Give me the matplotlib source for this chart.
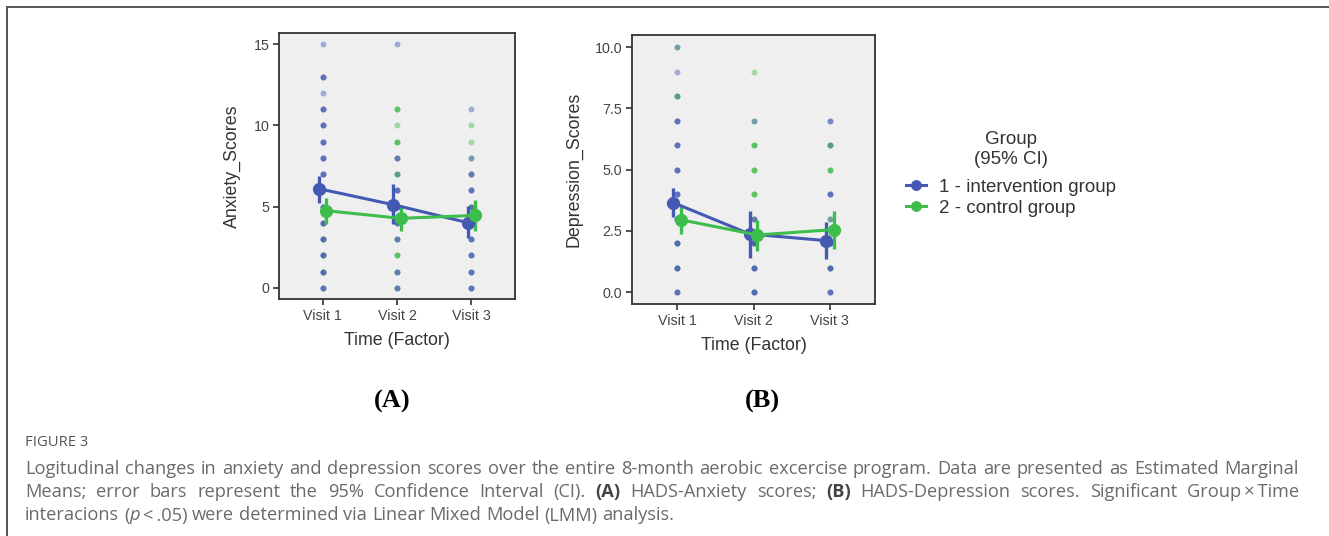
import re
import matplotlib
matplotlib.use('Agg')
import matplotlib.pyplot as plt
from matplotlib.lines import Line2D

W, H = 1329, 536

# ---- data ----
visits = ['Visit 1', 'Visit 2', 'Visit 3']
groups = ['1 - intervention group', '2 - control group']

# raw scores shown as dots, one list per visit
anx_int = [
    [0]*3 + [1]*3 + [2]*3 + [3]*3 + [4]*3 + [5]*3 + [6]*3 + [7]*3 + [8]*3 + [9]*3 + [10]*3 + [11]*3 + [12] + [13]*3 + [15],
    [0]*2 + [1]*2 + [3]*2 + [4]*2 + [5]*3 + [6]*3 + [7] + [8]*2 + [15],
    [0]*3 + [1]*3 + [2]*3 + [3]*3 + [4]*2 + [5]*2 + [6]*3 + [7]*2 + [8] + [11],
]
anx_ctl = [
    [1, 2, 3, 4, 5, 6],
    [0, 1, 2, 2, 2, 3, 4, 4, 5, 7, 7, 8, 9, 9, 9, 10, 11, 11, 11],
    [4, 4, 5, 5, 7, 8, 9, 10],
]
dep_int = [
    [0]*3 + [1]*3 + [2]*3 + [3]*3 + [4]*3 + [5]*3 + [6]*3 + [7]*3 + [8] + [9] + [10],
    [0]*3 + [1]*3 + [2]*3 + [3]*2 + [7],
    [0]*3 + [1]*3 + [2]*3 + [3] + [4]*3 + [6] + [7]*2,
]
dep_ctl = [
    [1, 2, 3, 3, 8, 8, 10],
    [0, 1, 2, 2, 3, 4, 4, 4, 5, 5, 5, 6, 6, 6, 7, 9],
    [1, 2, 2, 3, 5, 5, 5, 6, 6],
]

# estimated marginal means with 95% CI
anx_mean_int = [6.1, 5.12, 4.02]
anx_lo_int = [5.25, 3.95, 3.1]
anx_hi_int = [6.9, 6.4, 5.02]
anx_mean_ctl = [4.75, 4.28, 4.46]
anx_lo_ctl = [3.95, 3.5, 3.5]
anx_hi_ctl = [5.55, 5.1, 5.4]

dep_mean_int = [3.65, 2.37, 2.1]
dep_lo_int = [3.06, 1.4, 1.35]
dep_hi_int = [4.26, 3.3, 2.87]
dep_mean_ctl = [2.95, 2.33, 2.55]
dep_lo_ctl = [2.35, 1.68, 1.77]
dep_hi_ctl = [3.56, 2.96, 3.3]

anx_ticks = [0, 5, 10, 15]
dep_ticks = [0.0, 2.5, 5.0, 7.5, 10.0]

BLUE = '#4459b3'
GREEN = '#3dbd4c'
FONT = 'Liberation Sans'

plt.rcParams['font.family'] = [FONT, 'DejaVu Sans']

fig = plt.figure(figsize=(W / 100, H / 100), dpi=100)


def panel(rect, raw_int, raw_ctl, m_i, lo_i, hi_i, m_c, lo_c, hi_c,
          ylim, ticks, ticklabels, ylabel):
    ax = fig.add_axes(rect)
    ax.set_facecolor('#efefef')
    xs = [1, 2, 3]
    for x, vals in zip(xs, raw_ctl):
        ax.scatter([x] * len(vals), vals, s=18, color=GREEN, alpha=0.45,
                   linewidths=0, zorder=2)
    for x, vals in zip(xs, raw_int):
        ax.scatter([x] * len(vals), vals, s=18, color=BLUE, alpha=0.45,
                   linewidths=0, zorder=2)
    d = 0.05
    handles = []
    for off, m, lo, hi, c in [(-d, m_i, lo_i, hi_i, BLUE), (d, m_c, lo_c, hi_c, GREEN)]:
        px = [x + off for x in xs]
        yerr = [[a - b for a, b in zip(m, lo)], [b - a for a, b in zip(m, hi)]]
        ax.errorbar(px, m, yerr=yerr, fmt='none', ecolor=c, elinewidth=2.4,
                    capsize=0, zorder=3)
        h, = ax.plot(px, m, '-o', color=c, lw=2.2, ms=8.5, zorder=4)
        handles.append(h)
    ax.set_xlim(0.41, 3.59)
    ax.set_ylim(*ylim)
    ax.set_xticks(xs)
    ax.set_xticklabels(visits)
    ax.set_yticks(ticks)
    ax.set_yticklabels(ticklabels)
    ax.tick_params(length=4, width=1.2, color='#333333', labelsize=10.3,
                   labelcolor='#444444', pad=3)
    for s in ax.spines.values():
        s.set_color('#333333')
        s.set_linewidth(1.3)
    ax.set_xlabel('Time (Factor)', fontsize=12.8, color='#333333', labelpad=7)
    ax.set_ylabel(ylabel, fontsize=12.8, color='#333333', labelpad=9)
    return handles


hA = panel([279 / W, 1 - 299 / H, 236 / W, 266 / H], anx_int, anx_ctl,
           anx_mean_int, anx_lo_int, anx_hi_int, anx_mean_ctl, anx_lo_ctl, anx_hi_ctl,
           (-0.68, 15.68), anx_ticks, [str(t) for t in anx_ticks], 'Anxiety_Scores')
hB = panel([632 / W, 1 - 304 / H, 243 / W, 269 / H], dep_int, dep_ctl,
           dep_mean_int, dep_lo_int, dep_hi_int, dep_mean_ctl, dep_lo_ctl, dep_hi_ctl,
           (-0.49, 10.5), dep_ticks, ['%.1f' % t for t in dep_ticks], 'Depression_Scores')

leg = fig.legend(hA, groups, title='Group\n(95% CI)', loc='upper left',
                 bbox_to_anchor=(898 / W, 1 - 124 / H), frameon=False,
                 fontsize=13.5, title_fontsize=13.5, handlelength=1.1,
                 handletextpad=0.7, labelspacing=0.2, borderaxespad=0,
                 markerscale=0.8)
leg._legend_box.sep = 7.5
for t in leg.get_texts():
    t.set_color('#333333')
leg.get_title().set_color('#333333')
leg.get_title().set_multialignment('center')

# panel letters
fig.text(392 / W, 1 - 401 / H, '(A)', fontsize=19, fontweight='bold',
         family='Liberation Serif', ha='center', va='center')
fig.text(762 / W, 1 - 401 / H, '(B)', fontsize=19, fontweight='bold',
         family='Liberation Serif', ha='center', va='center')

# frame lines
fig.add_artist(Line2D([7.3 / W, 1], [1 - 7.3 / H, 1 - 7.3 / H], transform=fig.transFigure,
                      color='#555555', lw=1.4))
fig.add_artist(Line2D([7.3 / W, 7.3 / W], [0, 1 - 7.3 / H], transform=fig.transFigure,
                      color='#555555', lw=1.4))

# caption
CAP = 'Open Sans'
CAPC = '#6a6a6a'
X0, X1 = 25, 1299
fig.text(X0 / W, 1 - 446 / H, 'FIGURE 3', fontsize=10.6, family=CAP, color='#555555',
         va='baseline', ha='left')

lines = [
    'Logitudinal changes in anxiety and depression scores over the entire 8-month aerobic excercise program. Data are presented as Estimated Marginal',
    'Means; error bars represent the 95% Confidence Interval (CI). **(A)** HADS-Anxiety scores; **(B)** HADS-Depression scores. Significant Group\u2009\u00d7\u2009Time',
    'interacions (*p*\u2009<\u2009.05) were determined via Linear Mixed Model (LMM) analysis.',
]
baselines = [473.5, 497, 520.5]

renderer = fig.canvas.get_renderer()

# fit the caption size so the first line fills the column with tight spacing
probe = fig.text(0, 0, lines[0], fontsize=10, family=CAP)
natural = probe.get_window_extent(renderer).width
probe.remove()
CAPS = 10 * (X1 - X0) / natural * 0.985


def place(line, ybase, x0, x1, justify):
    words = line.split(' ')
    placed = []
    for w in words:
        pieces = [p for p in re.split(r'(\*\*.*?\*\*|\*.*?\*)', w) if p]
        objs = []
        for p in pieces:
            kw = dict(fontsize=CAPS, family=[CAP, 'DejaVu Sans'], color=CAPC,
                      va='baseline', ha='left')
            if p.startswith('**'):
                p = p[2:-2]
                kw['fontweight'] = 'bold'
                kw['color'] = '#444444'
            elif p.startswith('*'):
                p = p[1:-1]
                kw['fontstyle'] = 'italic'
            t = fig.text(0, 1 - ybase / H, p, **kw)
            wpx = t.get_window_extent(renderer).width
            objs.append((t, wpx))
        placed.append(objs)
    widths = [sum(o[1] for o in objs) for objs in placed]
    nat_space = 0.26 * CAPS * 100 / 72
    if justify and len(placed) > 1:
        space = (x1 - x0 - sum(widths)) / (len(placed) - 1)
    else:
        space = nat_space
    x = x0
    for objs in placed:
        for t, wpx in objs:
            t.set_x(x / W)
            x += wpx
        x += space


for i, (ln, yb) in enumerate(zip(lines, baselines)):
    place(ln, yb, X0, X1, justify=(i < 2))

fig.savefig('out.png', dpi=100)
